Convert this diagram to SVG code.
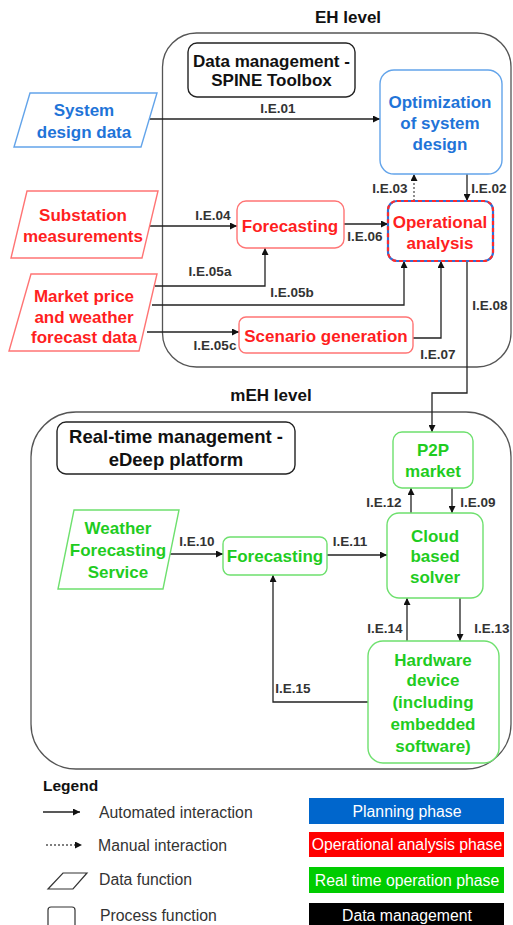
<svg xmlns="http://www.w3.org/2000/svg" width="513" height="925" viewBox="0 0 513 925">
<defs>
<marker id="ah" viewBox="0 0 10 10" refX="10" refY="5" markerWidth="7" markerHeight="7" markerUnits="userSpaceOnUse" orient="auto">
<path d="M0,0 L10,5 L0,10 z" fill="#111"/>
</marker>
<style>
text{font-family:"Liberation Sans",Arial,sans-serif}
.t{font-size:17px;font-weight:bold;text-anchor:middle}
.blue{fill:#1f74d8}.red{fill:#ff1f1f}.green{fill:#1fcc1f}
.bl{fill:#fff;stroke:#63a4ea;stroke-width:1.4}
.rd{fill:#fff;stroke:#ff7474;stroke-width:1.4}
.gr{fill:#fff;stroke:#6ee06e;stroke-width:1.4}
.cont{fill:none;stroke:#555;stroke-width:1.3}
.hd{fill:#fff;stroke:#222;stroke-width:1.4}
.lbl{font-size:13.5px;font-weight:bold;fill:#333;text-anchor:middle}
.c{fill:none;stroke:#222;stroke-width:1.3;marker-end:url(#ah)}
.cd{fill:none;stroke:#555;stroke-width:1.3;stroke-dasharray:2 2;marker-end:url(#ah)}
.lg{font-size:15.8px;fill:#333}
.lb{font-size:15.8px;fill:#fff;text-anchor:middle}
</style>
</defs>

<g id="containers">
<rect x="162.5" y="33" width="348.5" height="334" rx="34" class="cont"/>
<text x="348" y="23" font-size="17px" font-weight="bold" fill="#111" text-anchor="middle">EH level</text>
<rect x="31" y="412" width="480" height="357" rx="45" class="cont"/>
<text x="271" y="401" font-size="17px" font-weight="bold" fill="#111" text-anchor="middle">mEH level</text>
</g>

<g id="connectors">
<path class="c" d="M147,119 H380"/>
<path class="c" d="M467,174 V201"/>
<path class="cd" d="M414,201 V174"/>
<path class="c" d="M147,226 H237"/>
<path class="c" d="M344,224 H388"/>
<path class="c" d="M155,286 H265 V248"/>
<path class="c" d="M152,305 H404 V261"/>
<path class="c" d="M147,332 H239"/>
<path class="c" d="M413,338 H441 V261"/>
<path class="c" d="M467,261 V393 H432 V432"/>
<path class="c" d="M411,513 V488"/>
<path class="c" d="M452,488 V513"/>
<path class="c" d="M168,554 H223"/>
<path class="c" d="M327,555 H387"/>
<path class="c" d="M407,641 V598"/>
<path class="c" d="M460,598 V641"/>
<path class="c" d="M368,702 H273 V575"/>
<text class="lbl" x="278" y="113">I.E.01</text>
<text class="lbl" x="489" y="193">I.E.02</text>
<text class="lbl" x="390" y="193">I.E.03</text>
<text class="lbl" x="213" y="220">I.E.04</text>
<text class="lbl" x="210" y="276">I.E.05a</text>
<text class="lbl" x="292" y="297">I.E.05b</text>
<text class="lbl" x="215" y="350">I.E.05c</text>
<text class="lbl" x="365" y="241">I.E.06</text>
<text class="lbl" x="438" y="359">I.E.07</text>
<text class="lbl" x="490" y="310">I.E.08</text>
<text class="lbl" x="478" y="507">I.E.09</text>
<text class="lbl" x="197" y="546">I.E.10</text>
<text class="lbl" x="350" y="546">I.E.11</text>
<text class="lbl" x="384" y="507">I.E.12</text>
<text class="lbl" x="492" y="633">I.E.13</text>
<text class="lbl" x="385" y="633">I.E.14</text>
<text class="lbl" x="293" y="693">I.E.15</text>
</g>

<g id="dm-spine">
<rect x="188" y="43" width="167" height="54" rx="9" class="hd"/>
<text class="t" x="271.5" y="67" fill="#111">Data management -</text>
<text class="t" x="271.5" y="86" fill="#111">SPINE Toolbox</text>
</g>

<g id="system-design-data">
<polygon points="30,93 157,93 141,147 14,147" class="bl"/>
<text class="t blue" x="84" y="116">System</text>
<text class="t blue" x="84" y="138">design data</text>
</g>

<g id="optimization">
<rect x="380" y="70" width="122" height="104" rx="14" class="bl"/>
<text class="t blue" x="440" y="108">Optimization</text>
<text class="t blue" x="440" y="129">of system</text>
<text class="t blue" x="440" y="150">design</text>
</g>

<g id="substation">
<polygon points="27,191 158,191 142,258 11,258" class="rd"/>
<text class="t red" x="83" y="221">Substation</text>
<text class="t red" x="83" y="242">measurements</text>
</g>

<g id="forecasting-eh">
<rect x="237" y="201" width="107" height="47" rx="9" class="rd"/>
<text class="t red" x="290" y="232">Forecasting</text>
</g>

<g id="operational-analysis">
<rect x="388" y="201" width="105" height="60" rx="9" fill="#fff" stroke="#2f6fd8" stroke-width="2.2"/>
<rect x="388" y="201" width="105" height="60" rx="9" fill="none" stroke="#ff2a2a" stroke-width="2.2" stroke-dasharray="4 3"/>
<text class="t red" x="440" y="228">Operational</text>
<text class="t red" x="440" y="249">analysis</text>
</g>

<g id="market-price">
<polygon points="31,274 157,274 139,351 9,351" class="rd"/>
<text class="t red" x="84" y="302">Market price</text>
<text class="t red" x="84" y="323">and weather</text>
<text class="t red" x="84" y="343">forecast data</text>
</g>

<g id="scenario-generation">
<rect x="239" y="317" width="174" height="36" rx="7" class="rd"/>
<text class="t red" x="326" y="342">Scenario generation</text>
</g>

<g id="rt-edeep">
<rect x="57" y="422" width="238" height="52" rx="9" class="hd"/>
<text x="176" y="443" font-size="18.5px" font-weight="bold" fill="#111" text-anchor="middle">Real-time management -</text>
<text x="176" y="466" font-size="18.5px" font-weight="bold" fill="#111" text-anchor="middle">eDeep platform</text>
</g>

<g id="p2p-market">
<rect x="393" y="432" width="80" height="56" rx="9" class="gr"/>
<text class="t green" x="433" y="456">P2P</text>
<text class="t green" x="433" y="477">market</text>
</g>

<g id="cloud-solver">
<rect x="387" y="513" width="96" height="85" rx="12" class="gr"/>
<text class="t green" x="435" y="542">Cloud</text>
<text class="t green" x="435" y="562">based</text>
<text class="t green" x="435" y="583">solver</text>
</g>

<g id="weather-service">
<polygon points="74,510 179,510 163,589 58,589" class="gr"/>
<text class="t green" x="118" y="534">Weather</text>
<text class="t green" x="118" y="556">Forecasting</text>
<text class="t green" x="118" y="578">Service</text>
</g>

<g id="forecasting-meh">
<rect x="223" y="537" width="104" height="38" rx="7" class="gr"/>
<text class="t green" x="275" y="562">Forecasting</text>
</g>

<g id="hardware-device">
<rect x="368" y="641" width="131" height="122" rx="15" class="gr"/>
<text class="t green" x="433" y="666">Hardware</text>
<text class="t green" x="433" y="686">device</text>
<text class="t green" x="433" y="708">(including</text>
<text class="t green" x="433" y="730">embedded</text>
<text class="t green" x="433" y="752">software)</text>
</g>

<g id="legend">
<text x="43" y="791" font-size="15.5px" font-weight="bold" fill="#111">Legend</text>
<path class="c" d="M43,812 H80"/>
<text class="lg" x="99" y="818">Automated interaction</text>
<path class="cd" d="M46,845 H82"/>
<text class="lg" x="98" y="851">Manual interaction</text>
<polygon points="63,873 87,873 73,889 48,889" fill="none" stroke="#333" stroke-width="1.2"/>
<text class="lg" x="99" y="885">Data function</text>
<rect x="48" y="907" width="27" height="26" rx="3" fill="none" stroke="#333" stroke-width="1.2"/>
<text class="lg" x="100" y="921">Process function</text>
<rect x="309" y="798" width="195" height="26" fill="#0066cc"/>
<text class="lb" x="407" y="817">Planning phase</text>
<rect x="309" y="832" width="195" height="25" fill="#ff0000"/>
<text class="lb" x="407" y="850">Operational analysis phase</text>
<rect x="309" y="867" width="195" height="26" fill="#00cc00"/>
<text class="lb" x="407" y="886">Real time operation phase</text>
<rect x="309" y="903" width="195" height="25" fill="#000"/>
<text class="lb" x="407" y="921">Data management</text>
</g>
</svg>
